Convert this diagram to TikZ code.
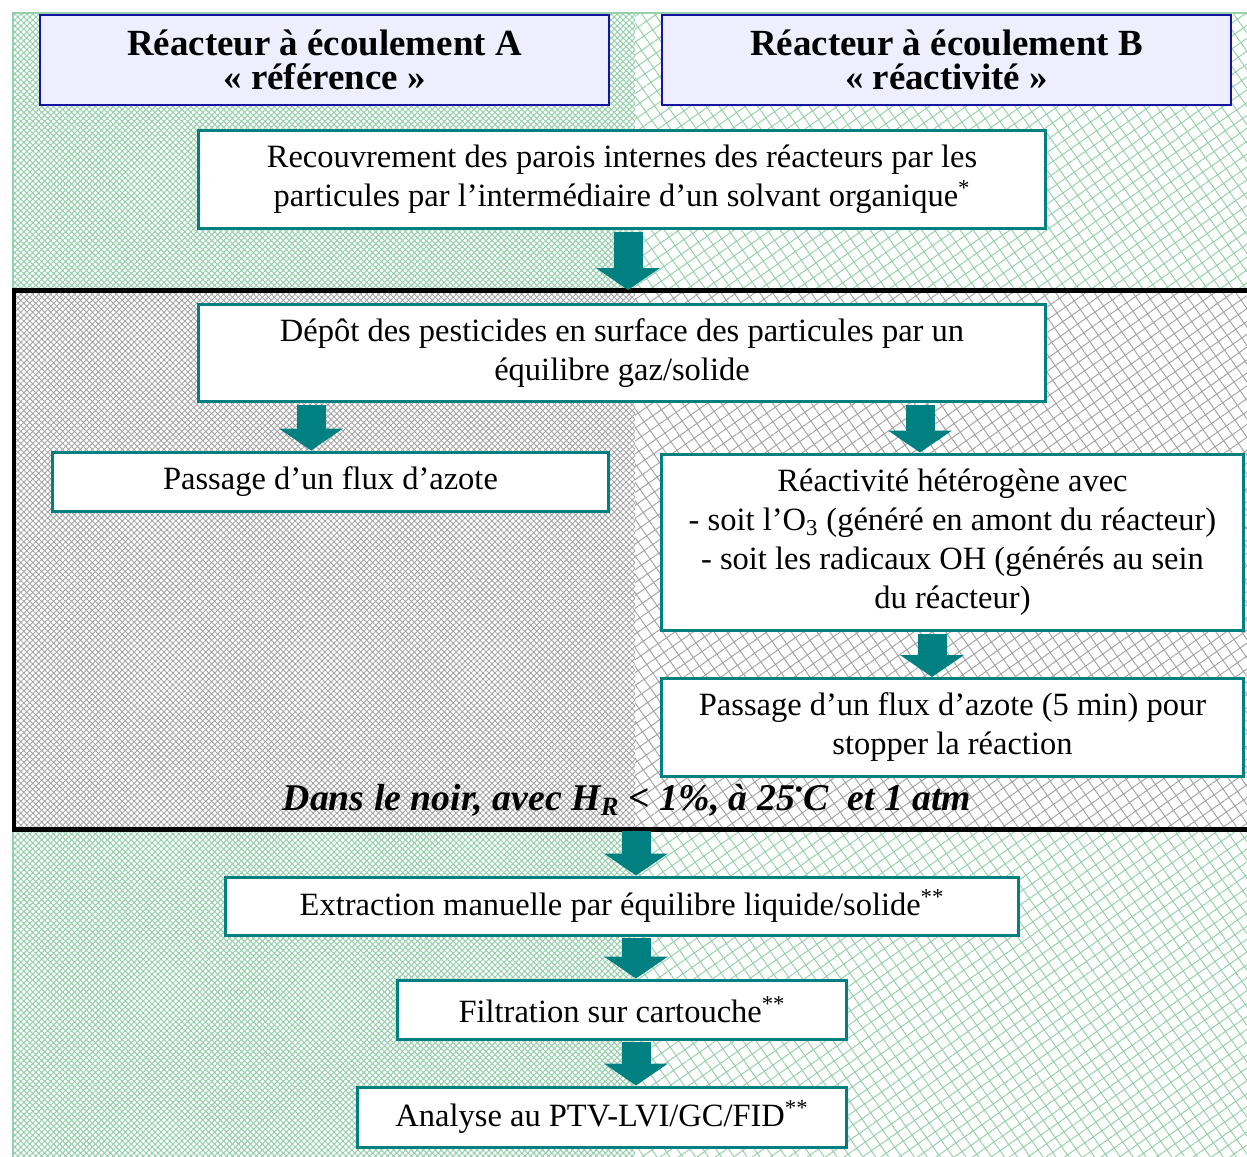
\documentclass[tikz,border=0pt]{standalone}
\usepackage{fontspec}
\setmainfont{Liberation Serif}
\usetikzlibrary{positioning, arrows.meta, patterns.meta}
\definecolor{flowTeal}{RGB}{0,128,128}
\definecolor{hdrFill}{RGB}{238,238,255}
\definecolor{hdrLine}{RGB}{20,20,160}
\definecolor{bgGreen}{RGB}{150,208,172}
\definecolor{bgGray}{RGB}{165,165,165}

\begin{document}
\begin{tikzpicture}[x=0.02cm, y=-0.02cm,
    hdr/.style={draw=hdrLine, line width=0.04cm, fill=hdrFill, align=center,
                font=\fontsize{21}{19.5}\selectfont\bfseries, inner sep=0pt},
    stepbox/.style={draw=flowTeal, line width=0.06cm, fill=white, align=center,
                font=\fontsize{18.5}{22.2}\selectfont, inner sep=0pt},
    flow/.style={draw=flowTeal, line width=0.58cm,
                -{Triangle[width=1.28cm, length=0.44cm, line width=0pt]}},
    fineGreen/.style={pattern={Hatch[angle=45, distance=2.4pt, line width=0.6pt]}, pattern color=bgGreen},
    wideGreen/.style={pattern={Hatch[angle=35, distance=6pt, line width=0.55pt]}, pattern color=bgGreen},
    fineGray/.style={pattern={Hatch[angle=45, distance=2.4pt, line width=0.5pt]}, pattern color=bgGray},
    wideGray/.style={pattern={Hatch[angle=35, distance=6pt, line width=0.55pt]}, pattern color=bgGray}
  ]
  \useasboundingbox (0,0) rectangle (1247,1156);
  \fill[white] (0,0) rectangle (1247,1156);

  % fond vert (A a gauche, B a droite)
  \fill[fineGreen] (12,12) rectangle (635,1160);
  \fill[wideGreen] (635,12) rectangle (1252,1160);
  \draw[bgGreen, line width=0.06cm] (13,1160) -- (13,13) -- (1252,13);

  % zone dans le noir
  \fill[white] (12,290) rectangle (1252,829);
  \fill[fineGray] (12,290) rectangle (635,829);
  \fill[wideGray] (635,290) rectangle (1252,829);
  \draw[line width=0.1cm] (14,290) rectangle (1254,829);
  \coordinate (darkTop) at (628,290);
  \coordinate (darkBot) at (636,831);

  % en-tetes
  \node[hdr, minimum width=11.38cm, minimum height=1.8cm] (hdrA) at (324.5,60)
    {Réacteur à écoulement A\\« référence »};
  \node[hdr, minimum width=11.38cm, minimum height=1.8cm] (hdrB) at (946.5,60)
    {Réacteur à écoulement B\\« réactivité »};

  % etapes
  \node[stepbox, minimum width=16.96cm, minimum height=1.98cm] (coat) at (622,179.5)
    {Recouvrement des parois internes des réacteurs par les\\
     particules par l’intermédiaire d’un solvant organique\textsuperscript{*}};
  \node[stepbox, minimum width=16.96cm, minimum height=1.96cm] (depot) at (622,353)
    {Dépôt des pesticides en surface des particules par un\\équilibre gaz/solide};
  \node[stepbox, minimum width=11.14cm, minimum height=1.18cm] (purgeA) at (330.5,481.5)
    {Passage d’un flux d’azote};
  \node[stepbox, minimum width=11.66cm, minimum height=3.54cm] (react) at (952.5,542.5)
    {Réactivité hétérogène avec\\
     - soit l’O\textsubscript{3} (généré en amont du réacteur)\\
     - soit les radicaux OH (générés au sein\\
     du réacteur)};
  \node[stepbox, minimum width=11.66cm, minimum height=1.96cm] (purgeB) at (952.5,727.5)
    {Passage d’un flux d’azote (5 min) pour\\stopper la réaction};
  \node[font=\fontsize{21.5}{21.5}\selectfont\bfseries\itshape, inner sep=0pt] (cond) at (627,800)
    {Dans le noir, avec H\textsubscript{R} < 1\%, à 25\textsuperscript{\large•}C\ \ et 1 atm};
  \node[stepbox, minimum width=15.88cm, minimum height=1.16cm] (extr) at (622,906)
    {Extraction manuelle par équilibre liquide/solide\textsuperscript{**}};
  \node[stepbox, minimum width=9cm, minimum height=1.18cm] (filt) at (622,1009.5)
    {Filtration sur cartouche\textsuperscript{**}};
  \node[stepbox, minimum width=9.8cm, minimum height=1.2cm] (anal) at (602,1117)
    {Analyse au PTV-LVI/GC/FID\textsuperscript{**}};

  % fleches
  \coordinate (xA) at (311,0);
  \coordinate (xB) at (920,0);
  \coordinate (xC) at (932,0);
  \coordinate (xD) at (636,0);
  \draw[flow] ([yshift=-0.03cm]coat.south -| darkTop) -- (darkTop);
  \draw[flow] ([yshift=-0.03cm]depot.south -| xA) -- (purgeA.north -| xA);
  \draw[flow] ([yshift=-0.03cm]depot.south -| xB) -- (react.north -| xB);
  \draw[flow] ([yshift=-0.03cm]react.south -| xC) -- (purgeB.north -| xC);
  \draw[flow] (darkBot) -- (extr.north -| xD);
  \draw[flow] ([yshift=-0.03cm]extr.south -| xD) -- (filt.north -| xD);
  \draw[flow] ([yshift=-0.03cm]filt.south -| xD) -- (anal.north -| xD);
\end{tikzpicture}
\end{document}
